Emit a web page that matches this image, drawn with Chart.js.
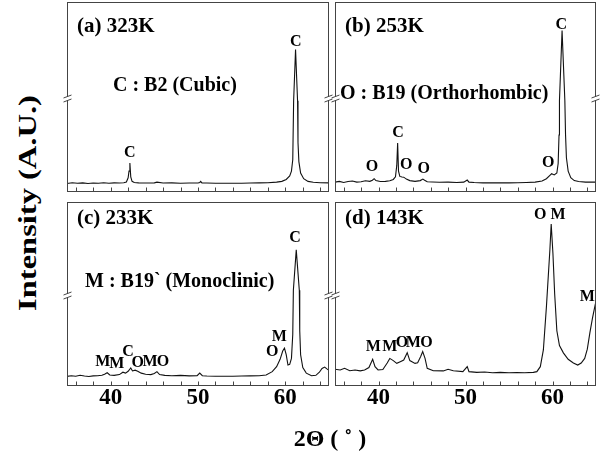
<!DOCTYPE html>
<html>
<head>
  <meta charset="UTF-8">
  <title>XRD patterns vs temperature</title>
  <script src="https://cdn.jsdelivr.net/npm/chart.js"></script>
  <style>
    body { margin: 0; background: #fff; }
    #wrap { position: relative; width: 600px; height: 460px; overflow: hidden; font-family: "Liberation Serif", serif; }
    canvas { position: absolute; }
    .ytitle { position: absolute; left: 28px; top: 203px; white-space: nowrap; font-weight: bold; font-size: 25px;
      transform: translate(-50%, -50%) rotate(-90deg) scaleX(1.3); }
    .xtitle { position: absolute; left: 330px; top: 438px; white-space: nowrap; font-size: 24px; font-weight: bold;
      transform: translate(-50%, -50%); }
  </style>
</head>
<body>
<div id="wrap">
  <canvas id="pa" width="275" height="200" style="left:60px;top:0px"></canvas>
  <canvas id="pb" width="270" height="200" style="left:330px;top:0px"></canvas>
  <canvas id="pc" width="275" height="235" style="left:60px;top:195px"></canvas>
  <canvas id="pd" width="270" height="235" style="left:330px;top:195px"></canvas>
  <div class="ytitle">Intensity (A.U.)</div>
  <div class="xtitle">2Θ ( ˚ )</div>
</div>

<script>
// 2-theta axis
const tickValues = [40, 50, 60];

// (a) 323K
const thetaA = [35, 35.6, 36.2, 36.8, 37.4, 38, 38.6, 39.2, 39.8, 40.4,
  41, 41.5, 41.8, 42.0, 42.1, 42.2, 42.3, 42.45, 42.7, 43.2,
  44, 45, 45.3, 46, 47, 48, 49, 50, 50.2, 50.3,
  50.45, 51, 52, 53, 54, 55, 56, 57, 58, 59,
  59.6, 60.1, 60.5, 60.7, 60.85, 60.95, 61.17, 61.4, 61.45, 61.55,
  61.75, 62.1, 62.6, 63.2, 64, 65];
const intensityA = [4.5, 4.9, 4.6, 4.8, 4.5, 4.7, 4.6, 4.9, 4.6, 4.8,
  4.7, 4.9, 5.3, 7.5, 11, 15.3, 8, 5.6, 5.0, 4.8,
  4.7, 4.8, 5.2, 4.7, 4.8, 4.6, 4.7, 4.7, 5.0, 5.6,
  4.8, 4.7, 4.6, 4.6, 4.6, 4.6, 4.7, 4.8, 4.9, 5.2,
  5.6, 6.6, 8.5, 11, 17, 48, 75, 48, 26, 16,
  10, 7, 5.6, 5.1, 4.9, 4.8];
const peakTextA = ['C', 'C'];
const peakXA = [42.2, 61.2];
const peakYA = [20.5, 79];

// (b) 253K
const thetaB = [35, 35.5, 36, 36.5, 37, 37.5, 38, 38.5, 39, 39.3,
  39.5, 39.7, 40.2, 40.8, 41.3, 41.7, 41.95, 42.1, 42.2, 42.3,
  42.45, 42.7, 42.9, 43.2, 43.6, 44.2, 44.8, 45.1, 45.3, 45.6,
  46.2, 47, 48, 49, 49.8, 50.2, 50.4, 51, 52, 53,
  54, 55, 56, 57, 58, 58.8, 59.3, 59.7, 59.9, 60.2,
  60.5, 60.65, 60.75, 60.8, 61.1, 61.42, 61.5, 61.6, 61.8, 62.1,
  62.5, 63, 63.8, 64.5, 65];
const intensityB = [5.2, 5.6, 5.0, 5.5, 5.8, 5.2, 5.4, 5.9, 5.6, 6.2,
  7.0, 6.0, 5.5, 5.6, 5.9, 6.6, 8, 14, 25.8, 11,
  8.2, 7.9, 7.8, 6.8, 6.0, 5.6, 6.0, 6.8, 6.2, 5.4,
  5.3, 5.1, 5.2, 5.0, 5.2, 6.3, 5.2, 5.0, 4.8, 4.8,
  4.8, 4.8, 4.9, 5.0, 5.2, 5.8, 7.0, 8.8, 9.6, 9.0,
  10, 15, 30, 48, 85, 48, 30, 18, 11, 7.5,
  6.0, 5.5, 5.2, 5.2, 5.2];
const peakTextB = ['O', 'C', 'O', 'O', 'O', 'C'];
const peakXB = [39.25, 42.24, 43.2, 45.2, 59.5, 61.0];
const peakYB = [13.2, 31, 14.2, 12.1, 15.3, 88];

// (c) 233K
const thetaC = [35, 35.5, 36, 36.5, 37, 37.5, 38, 38.5, 39, 39.3,
  39.6, 39.9, 40.4, 41, 41.4, 41.7, 42.0, 42.3, 42.5, 42.8,
  43.1, 43.5, 44, 44.6, 45.0, 45.3, 45.6, 46.2, 47, 48,
  49, 49.9, 50.2, 50.5, 51, 52, 53, 54, 55, 56,
  57, 57.8, 58.5, 59.0, 59.4, 59.7, 59.9, 60.1, 60.3, 60.5,
  60.7, 60.85, 60.92, 61.25, 61.6, 61.65, 61.75, 62.0, 62.4, 63.0,
  63.5, 63.9, 64.2, 64.5, 64.8, 65];
const intensityC = [5.2, 5.6, 5.3, 5.8, 5.4, 5.2, 5.5, 5.6, 5.8, 6.4,
  7.2, 6.0, 5.8, 6.2, 7.5, 7.0, 8.0, 9.8, 8.2, 8.6,
  8.0, 7.0, 6.4, 6.2, 6.8, 7.8, 6.2, 5.8, 5.6, 5.8,
  5.5, 5.6, 7.0, 5.6, 5.4, 5.3, 5.3, 5.3, 5.4, 5.5,
  5.6, 6.0, 7.8, 10.5, 14.5, 19, 20.6, 17, 11.4, 11.8,
  15, 28, 52, 74, 52, 30, 17, 10, 7, 5.6,
  5.8, 7.5, 9.5, 10.3, 9.2, 8.5];
const peakTextC = ['M', 'M', 'C', 'O', 'M', 'O', 'O', 'M', 'C'];
const peakXC = [39.1, 40.7, 42.0, 43.1, 44.5, 46.0, 58.5, 59.3, 61.1];
const peakYC = [13, 12, 18.5, 12.5, 13, 13, 18.5, 26.6, 80.4];

// (d) 143K
const thetaD = [35, 35.6, 36.1, 36.7, 37.3, 37.9, 38.4, 38.9, 39.33, 39.6,
  39.95, 40.5, 41.0, 41.3, 41.7, 42.1, 42.5, 42.9, 43.3, 43.6,
  44.2, 44.5, 44.85, 45.08, 45.35, 45.6, 46.3, 47.45, 48.0, 48.6,
  49.7, 50.2, 50.4, 51.3, 52.2, 53.1, 54, 55, 55.9, 56.8,
  57.8, 58.2, 58.6, 58.95, 59.3, 59.7, 59.85, 60.05, 60.25, 60.5,
  60.8, 61.25, 61.8, 62.4, 62.9, 63.3, 63.7, 64.0, 64.3, 64.6,
  64.9, 65];
const intensityD = [9.1, 8.7, 9.6, 8.3, 8.7, 8.2, 8.7, 10, 14.5, 10.5,
  8.7, 9, 12.5, 15, 13.8, 12.3, 13.2, 14.1, 18.1, 13.8,
  12.3, 12.6, 16, 18.7, 15, 9.6, 8.3, 8.2, 9.1, 8.3,
  7.8, 10.5, 7.8, 7.4, 7.6, 7.2, 7.4, 7.2, 7.3, 7.2,
  7.4, 7.8, 10.5, 19.6, 43, 74, 88, 72, 50, 30,
  22, 18, 14.5, 12.5, 11.4, 12.5, 15, 20, 29, 37,
  44, 46];
const peakTextD = ['M', 'M', 'O', 'M', 'O', 'O M', 'M'];
const peakXD = [39.4, 41.3, 42.7, 44.0, 45.5, 59.7, 64.0];
const peakYD = [21.2, 21.2, 23.4, 23.4, 23.4, 93, 48.4];

const SERIF = '"Liberation Serif", "Times New Roman", serif';

// frame, inward ticks, axis-break marks and all the text inside a panel
const decor = {
  id: 'decor',
  afterDraw(chart, args, o) {
    const { ctx, chartArea: a, scales: { x, y } } = chart;
    ctx.save();
    ctx.strokeStyle = '#444';
    ctx.lineWidth = 1;
    const L = Math.round(a.left) + 0.5, T = Math.round(a.top) + 0.5;
    const R = Math.round(a.right) - 0.5, B = Math.round(a.bottom) - 0.5;
    ctx.strokeRect(L, T, R - L, B - T);

    ctx.beginPath();
    for (let v = 36; v <= 64; v += 2) {
      const px = Math.round(x.getPixelForValue(v)) + 0.5;
      ctx.moveTo(px, B);
      ctx.lineTo(px, B - 4);
    }
    ctx.stroke();

    const by = Math.round(a.top + a.height * 0.51);
    o.breaks.forEach(side => {
      const bx = side === 'left' ? L : R;
      ctx.fillStyle = '#fff';
      ctx.fillRect(bx - 1, by - 2, 3, 4);
      ctx.beginPath();
      ctx.moveTo(bx - 4, by - 1); ctx.lineTo(bx + 4, by - 4);
      ctx.moveTo(bx - 4, by + 3); ctx.lineTo(bx + 4, by);
      ctx.stroke();
    });

    ctx.fillStyle = '#000';
    ctx.textBaseline = 'middle';
    ctx.textAlign = 'left';
    ctx.font = 'bold 21px ' + SERIF;
    ctx.fillText(o.title, a.left + 10, a.top + o.titleY);
    ctx.font = 'bold 20px ' + SERIF;
    if (o.legend) ctx.fillText(o.legend, a.left + o.legendX, a.top + o.legendY);

    ctx.textAlign = 'center';
    ctx.font = 'bold 16px ' + SERIF;
    o.text.forEach((t, i) => {
      ctx.fillText(t, x.getPixelForValue(o.px[i]), y.getPixelForValue(o.py[i]));
    });
    ctx.restore();
  }
};

function panel(id, theta, intensity, bottom, pad, deco) {
  new Chart(document.getElementById(id), {
    type: 'line',
    data: {
      datasets: [{
        data: theta.map((t, i) => ({ x: t, y: intensity[i] })),
        borderColor: '#111',
        borderWidth: 1.1,
        pointRadius: 0,
        tension: 0
      }]
    },
    options: {
      responsive: false,
      animation: false,
      layout: { padding: pad },
      plugins: { legend: { display: false }, tooltip: { enabled: false }, decor: deco },
      scales: {
        x: {
          type: 'linear', min: 35, max: 65, display: bottom,
          afterBuildTicks: s => { s.ticks = tickValues.map(v => ({ value: v })); },
          afterFit: s => { s.height = bottom ? 40 : 0; },
          grid: { display: false, drawTicks: false },
          border: { display: false },
          ticks: { color: '#000', padding: -2, maxRotation: 0, font: { family: SERIF, size: 23, weight: 'bold' } }
        },
        y: { min: 0, max: 100, display: false }
      }
    },
    plugins: [decor]
  });
}

panel('pa', thetaA, intensityA, false, { left: 7, right: 6, top: 2, bottom: 8 },
  { title: '(a) 323K', titleY: 25, legend: 'C : B2 (Cubic)', legendX: 46, legendY: 84,
    breaks: ['left', 'right'], text: peakTextA, px: peakXA, py: peakYA });
panel('pb', thetaB, intensityB, false, { left: 5, right: 4, top: 2, bottom: 8 },
  { title: '(b) 253K', titleY: 25, legend: 'O : B19 (Orthorhombic)', legendX: 5, legendY: 92,
    breaks: ['left', 'right'], text: peakTextB, px: peakXB, py: peakYB });
panel('pc', thetaC, intensityC, true, { left: 7, right: 6, top: 7, bottom: 4 },
  { title: '(c) 233K', titleY: 17, legend: 'M : B19` (Monoclinic)', legendX: 18, legendY: 80,
    breaks: ['left', 'right'], text: peakTextC, px: peakXC, py: peakYC });
panel('pd', thetaD, intensityD, true, { left: 5, right: 4, top: 7, bottom: 4 },
  { title: '(d) 143K', titleY: 17, legend: '',
    breaks: ['left'], text: peakTextD, px: peakXD, py: peakYD });
</script>
</body>
</html>
